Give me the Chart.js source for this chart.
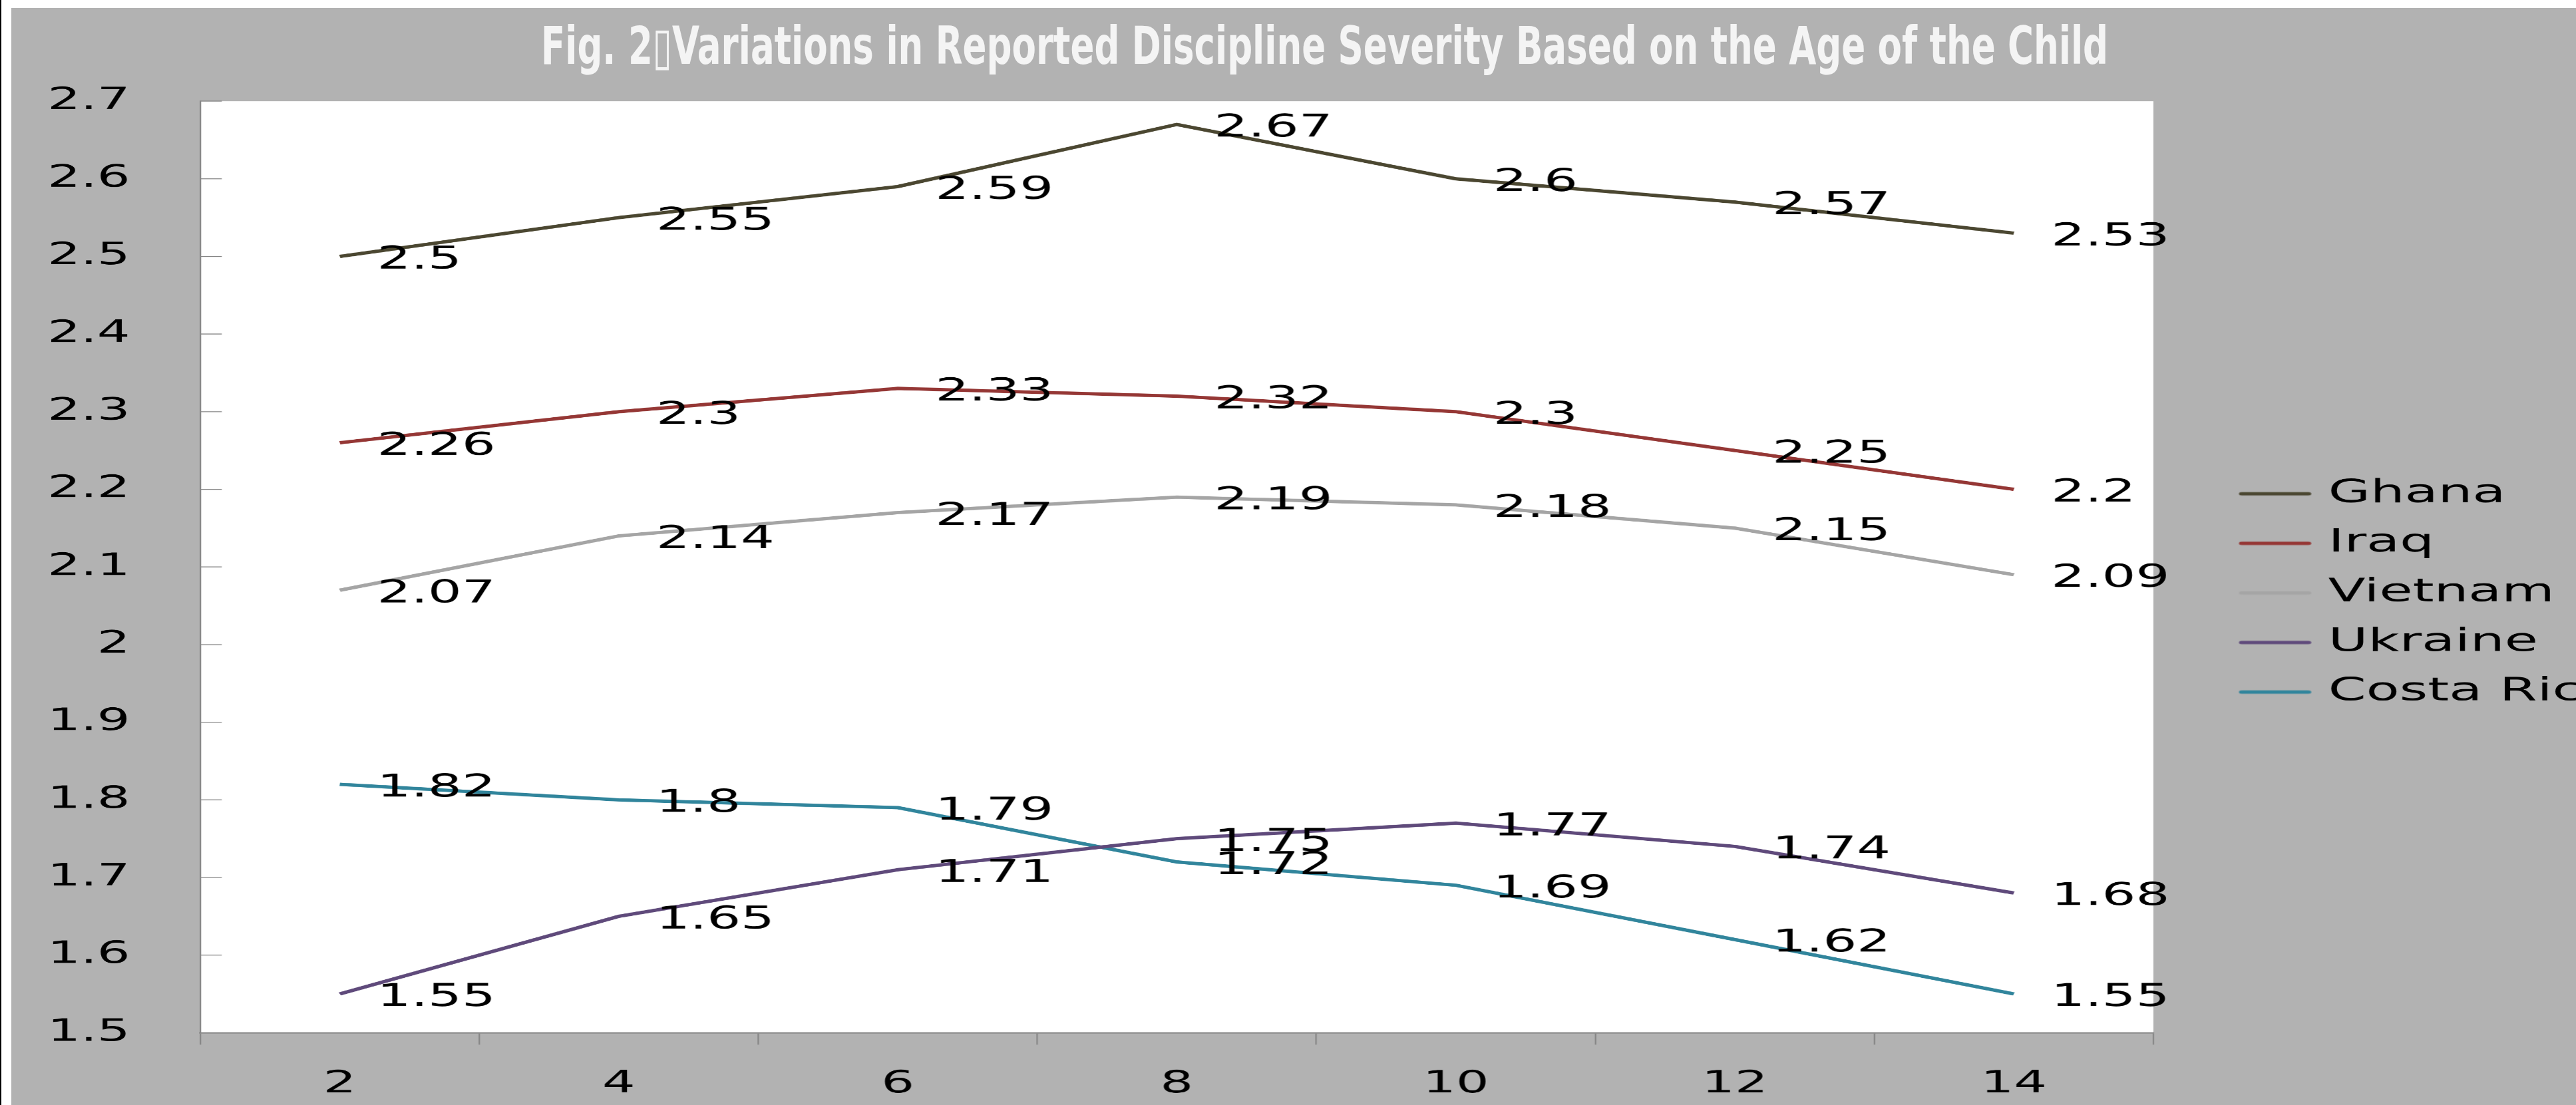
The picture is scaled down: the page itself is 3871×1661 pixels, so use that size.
<!DOCTYPE html>
<html lang="en">
<head>
<meta charset="utf-8">
<title>Fig. 2 Variations in Reported Discipline Severity</title>
<script src="https://cdn.jsdelivr.net/npm/chart.js@4.4.1/dist/chart.umd.min.js"></script>
<style>
  html, body { margin: 0; padding: 0; background: #fff; }
  #lienzo { position: relative; width: 3871px; height: 1661px; overflow: hidden; }
  #borde { position: absolute; left: 0; top: 0; width: 2px; height: 100%; background: #000; }
  #panel { position: absolute; left: 17px; top: 12px; right: 0; bottom: 0; background: #b2b2b2; }
  #titulo {
    position: absolute; left: 0; top: 24px; white-space: nowrap;
    font: bold 78px "Liberation Sans Narrow", "DejaVu Sans Condensed", sans-serif;
    color: #f4f4f4; transform-origin: 0 0;
  }
  #grafica { position: absolute; left: 0; top: 0; transform-origin: 0 0; }
</style>
</head>
<body>
<div id="lienzo">
  <div id="borde"></div>
  <div id="panel"></div>
  <canvas id="grafica" width="2277" height="1661"></canvas>
  <div id="titulo">Fig. 2&#x25AF;Variations in Reported Discipline Severity Based on the Age of the Child</div>
</div>
<script>
/* La imagen original viene estirada a lo ancho: se dibuja angosta y se estira con CSS. */
const ESTIRAMIENTO = 1.7;

const edades = ["2", "4", "6", "8", "10", "12", "14"];
const ghana = [2.5, 2.55, 2.59, 2.67, 2.6, 2.57, 2.53];
const iraq = [2.26, 2.3, 2.33, 2.32, 2.3, 2.25, 2.2];
const vietnam = [2.07, 2.14, 2.17, 2.19, 2.18, 2.15, 2.09];
const ukraine = [1.55, 1.65, 1.71, 1.75, 1.77, 1.74, 1.68];
const costaRica = [1.82, 1.8, 1.79, 1.72, 1.69, 1.62, 1.55];
const paises = ["Ghana", "Iraq", "Vietnam", "Ukraine", "Costa Rica"];
const series = [ghana, iraq, vietnam, ukraine, costaRica];
const colores = ["#4b4731", "#953735", "#a5a5a5", "#5f4a7b", "#31859c"];
const ticksY = [1.5, 1.6, 1.7, 1.8, 1.9, 2, 2.1, 2.2, 2.3, 2.4, 2.5, 2.6, 2.7];

const GRIS_EJE = "#868686";

/** Trazo corto de la leyenda (una linea con puntas redondeadas por pais). */
function trazoLeyenda(color) {
  const c = document.createElement("canvas");
  c.width = 65;
  c.height = 8;
  const g = c.getContext("2d");
  g.strokeStyle = color;
  g.lineWidth = 5;
  g.lineCap = "round";
  g.beginPath();
  g.moveTo(3, 4);
  g.lineTo(62, 4);
  g.stroke();
  return c;
}

/** Fondo blanco solo dentro del area de trazado. */
const fondoArea = {
  id: "fondoArea",
  beforeDraw(chart) {
    const { ctx, chartArea: a } = chart;
    ctx.save();
    ctx.fillStyle = "#fff";
    ctx.fillRect(a.left, a.top, a.right - a.left, a.bottom - a.top);
    ctx.restore();
  },
};

/** Marcas del eje Y hacia adentro del area, como en el original. */
const marcasY = {
  id: "marcasY",
  afterDraw(chart) {
    const y = chart.scales.y;
    const ctx = chart.ctx;
    ctx.save();
    ctx.strokeStyle = GRIS_EJE;
    ctx.lineWidth = 1.3;
    y.ticks.forEach(t => {
      const py = y.getPixelForValue(t.value);
      ctx.beginPath();
      ctx.moveTo(y.right, py);
      ctx.lineTo(y.right + 19, py);
      ctx.stroke();
    });
    ctx.restore();
  },
};

/** Etiquetas de valor a la derecha de cada punto. */
const etiquetas = {
  id: "etiquetas",
  afterDatasetsDraw(chart) {
    const ctx = chart.ctx;
    ctx.save();
    ctx.font = '47px "DejaVu Sans"';
    ctx.fillStyle = "#000";
    ctx.textAlign = "left";
    ctx.textBaseline = "middle";
    chart.data.datasets.forEach((ds, i) => {
      chart.getDatasetMeta(i).data.forEach((p, j) => {
        ctx.fillText(String(ds.data[j]), p.x + 33, p.y + 6);
      });
    });
    ctx.restore();
  },
};

Chart.defaults.font.family = '"DejaVu Sans", sans-serif';
Chart.defaults.color = "#000";

const canvas = document.getElementById("grafica");
canvas.style.transform = "scaleX(" + ESTIRAMIENTO + ")";

new Chart(canvas, {
  type: "line",
  data: {
    labels: edades,
    datasets: paises.map((nombre, i) => ({
      label: nombre,
      data: series[i],
      borderColor: colores[i],
      backgroundColor: colores[i],
      borderWidth: 5,
      pointRadius: 0,
      pointStyle: trazoLeyenda(colores[i]),
      tension: 0,
      fill: false,
    })),
  },
  options: {
    responsive: false,
    devicePixelRatio: ESTIRAMIENTO,
    animation: false,
    events: [],
    layout: { padding: { top: 152, bottom: 0, left: 0, right: 0 } },
    plugins: {
      title: { display: false },
      tooltip: { enabled: false },
      legend: {
        position: "right",
        align: "center",
        fullSize: false,
        maxWidth: 316,
        title: { display: true, text: "", padding: 0, font: { size: 65, lineHeight: 1.2 } },
        labels: {
          usePointStyle: true,
          pointStyleWidth: 46,
          padding: 26.5,
          color: "#000",
          font: { size: 48 },
        },
      },
    },
    scales: {
      x: {
        offset: true,
        grid: { offset: true, drawOnChartArea: false, drawTicks: true, tickLength: 18, color: GRIS_EJE, lineWidth: 1.3 },
        border: { display: true, color: GRIS_EJE, width: 2 },
        ticks: { font: { size: 46 }, padding: 32, maxRotation: 0 },
        afterFit(s) { s.height = 109; },
      },
      y: {
        min: 1.5,
        max: 2.7,
        grid: { drawOnChartArea: false, drawTicks: false },
        border: { display: true, color: GRIS_EJE, width: 1.3 },
        ticks: { font: { size: 46 }, padding: 62, callback: v => String(v) },
        afterBuildTicks(s) { s.ticks = ticksY.map(v => ({ value: v })); },
        afterFit(s) { s.width = 177; },
      },
      relleno: {
        type: "linear",
        position: "right",
        display: true,
        grid: { display: false, drawTicks: false },
        border: { display: false },
        ticks: { display: false },
        afterFit(s) { s.width = 58; },
      },
    },
  },
  plugins: [fondoArea, marcasY, etiquetas],
});

/* Titulo: se ajusta al ancho medido en la figura (~2355 px centrado en x=1990). */
const titulo = document.getElementById("titulo");
const anchoTitulo = titulo.getBoundingClientRect().width;
const escalaTitulo = 2355 / anchoTitulo;
titulo.style.left = (1990 - 2355 / 2) + "px";
titulo.style.transform = "scaleX(" + escalaTitulo + ")";
</script>
</body>
</html>
